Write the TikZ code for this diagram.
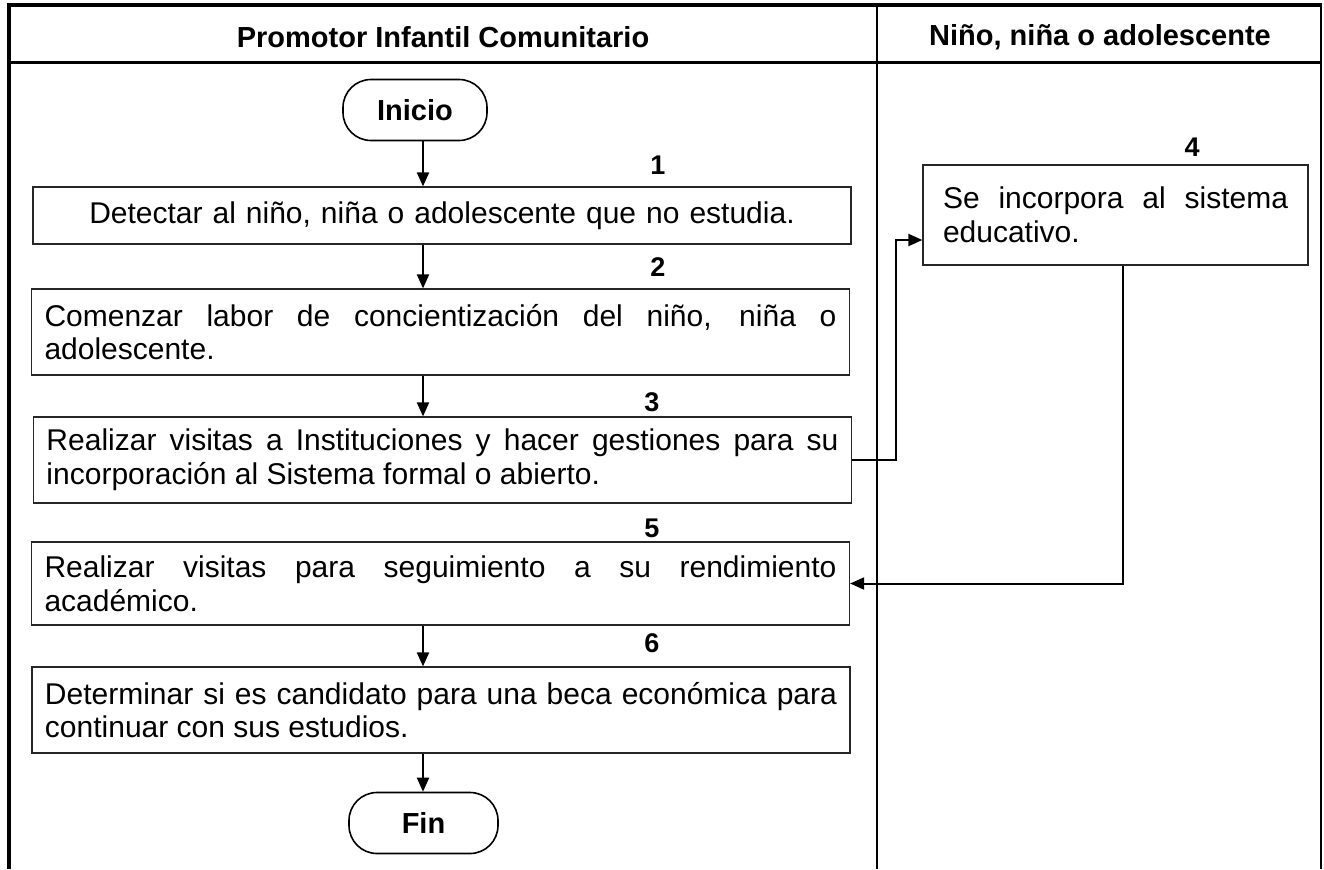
\documentclass[tikz,border=0pt]{standalone}
\usepackage{fontspec}
\setmainfont{Liberation Sans}
\usetikzlibrary{arrows.meta}
\hyphenpenalty=10000
\exhyphenpenalty=10000

\begin{document}
\begin{tikzpicture}[x=0.5pt,y=-0.5pt,>={Triangle[length=7pt,width=6pt]}]

  \tikzstyle{actbox}=[rectangle,draw=black!85,line width=0.6pt,inner xsep=6.5pt,inner ysep=2pt,text width=396pt,align=justify,minimum height=43pt,font=\fontsize{15}{16.8}\selectfont]
  \tikzstyle{term}=[rectangle,rounded corners=14pt,draw=black,line width=0.8pt,minimum width=72pt,minimum height=30.5pt,font=\fontsize{14.5}{17}\selectfont\bfseries]
  \tikzstyle{stepno}=[inner sep=0pt,font=\fontsize{13.5}{16}\selectfont\bfseries]
  \tikzstyle{lanehead}=[inner sep=0pt,font=\fontsize{14.5}{17}\selectfont\bfseries]
  \tikzstyle{flow}=[->,line width=1pt]

  \useasboundingbox (0,0) rectangle (1324,869);

  % frame and lanes
  \draw[line width=2pt] (7,5) -- (1322,5);
  \draw[line width=2pt] (9,4) -- (9,869);
  \draw[line width=1.5pt] (9,62) -- (1322,62);
  \draw[line width=1pt] (877,5) -- (877,869);
  \draw[line width=1pt] (1321,5) -- (1321,869);

  \node [lanehead] (hpic) at (443,37) {Promotor Infantil Comunitario};
  \node [lanehead] (hnna) at (1100,37) {Niño, niña o adolescente};

  % activities
  \node [term] (inicio) at (415,110) {Inicio};
  \node [actbox,align=center,minimum height=28.5pt] (a1) at (442,215.5) {Detectar al niño, niña o adolescente que no estudia.};
  \node [actbox] (a2) at (440.5,332) {Comenzar labor de concientización del niño, niña o adolescente.};
  \node [actbox] (a3) at (442.5,460) {Realizar visitas a Instituciones y hacer gestiones para su incorporación al Sistema formal o abierto.};
  \node [actbox,text width=172.5pt,inner xsep=10pt,minimum height=50pt] (a4) at (1115.5,215) {Se incorpora al sistema educativo.};
  \node [actbox,minimum height=41.5pt] (a5) at (440.5,583.5) {Realizar visitas para seguimiento a su rendimiento académico.};
  \node [actbox] (a6) at (441,710) {Determinar si es candidato para una beca económica para continuar con sus estudios.};
  \node [term,minimum width=74.5pt] (fin) at (423.5,823) {Fin};

  % step numbers
  \node [stepno] (n1) at (658,165) {1};
  \node [stepno] (n2) at (658,267) {2};
  \node [stepno] (n3) at (652,402) {3};
  \node [stepno] (n4) at (1192,147) {4};
  \node [stepno] (n5) at (652,528) {5};
  \node [stepno] (n6) at (652,643) {6};

  % connectors
  \coordinate (axis) at (423,0);
  \draw[flow] (inicio.south -| axis) -- (a1.north -| axis);
  \draw[flow] (a1.south -| axis) -- (a2.north -| axis);
  \draw[flow] (a2.south -| axis) -- (a3.north -| axis);
  \draw[flow] (a5.south -| axis) -- (a6.north -| axis);
  \draw[flow] (a6.south -| axis) -- (fin.north -| axis);
  \draw[flow] (a3.east) -| (896,240) -- (a4.west |- 0,240);
  \draw[flow] (a4.south -| 1123,0) |- (a5.east);
\end{tikzpicture}
\end{document}
